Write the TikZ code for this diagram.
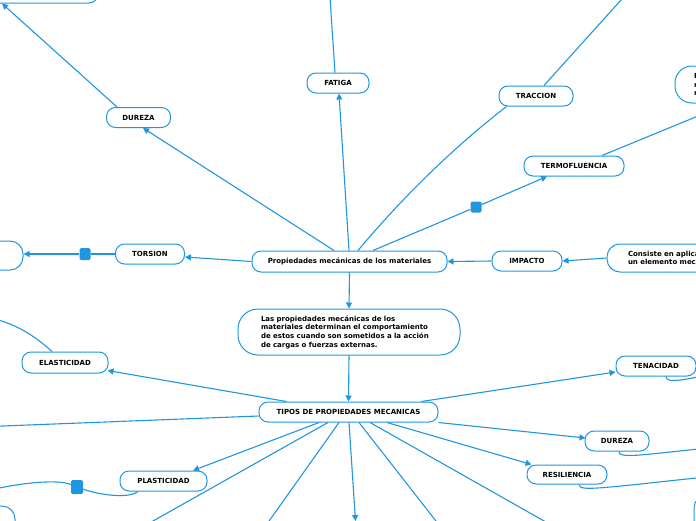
\documentclass[tikz,border=0pt]{standalone}
\usepackage{fontspec}
\setmainfont{DejaVu Sans}
\usetikzlibrary{arrows.meta,calc}
\definecolor{mapblue}{RGB}{33,150,224}
\begin{document}
\begin{tikzpicture}[x=1pt,y=-1pt,
    >={Triangle[length=6pt,width=6pt]},
    link/.style={draw=mapblue, line width=1.1pt},
    topic/.style={draw=mapblue, line width=1pt, fill=white, rounded corners=9pt,
      minimum height=20pt, inner sep=0pt, align=center,
      font=\fontsize{7}{8.7}\selectfont\bfseries},
    knob/.style={fill=mapblue, rounded corners=1.5pt, minimum size=11pt, inner sep=0pt}]
    % Canvas
    \fill[white] (0,0) rectangle (696,520);
    \useasboundingbox (0,0) rectangle (696,520);
    \clip (0,0) rectangle (696,520);
    % Upper topics
    \node[topic, minimum width=195pt, minimum height=21pt] (main) at (349.5,261.5) {Propiedades mecánicas de los materiales};
    \node[topic, minimum width=64pt] (dureza) at (138.5,117.5) {DUREZA};
    \node[topic, minimum width=62pt] (fatiga) at (338,83) {FATIGA};
    \node[topic, minimum width=74pt] (traccion) at (536,96) {TRACCION};
    \node[topic, minimum width=100pt] (termo) at (574,166) {TERMOFLUENCIA};
    \node[topic, minimum width=70pt] (impacto) at (527,261) {IMPACTO};
    \node[topic, minimum width=69pt] (torsion) at (150,254) {TORSION};
    \node[topic, minimum width=158pt, minimum height=28pt] (topleft) at (19,-11) {};
    \node[topic, minimum width=100pt, minimum height=29pt, rounded corners=13pt] (leftend) at (-27,255.5) {};
    \node[topic, text width=100pt, inner xsep=19pt, minimum height=37pt, align=left, rounded corners=17pt] (topright) at (744,84.5) {I\\r\\r};
    \node[topic, text width=150pt, inner xsep=21pt, minimum height=28pt, align=left, rounded corners=13pt] (consiste) at (703,258) {Consiste en aplica\\un elemento mec};
    \node[topic, text width=176pt, inner xsep=23pt, minimum height=46pt, align=left, rounded corners=20pt] (desc) at (349,332) {Las propiedades mecánicas de los\\materiales determinan el comportamiento\\de estos cuando son sometidos a la acción\\de cargas o fuerzas externas.};
    \node[knob] (sqa) at (476,207) {};
    \node[knob, minimum height=12pt] (sqb) at (85,254) {};
    % Lower topics
    \node[topic, minimum width=179pt] (tipos) at (348.5,412) {TIPOS DE PROPIEDADES MECANICAS};
    \node[topic, minimum width=86pt, minimum height=21pt] (elast) at (65,362.5) {ELASTICIDAD};
    \node[topic, minimum width=87pt] (plast) at (163.5,481) {PLASTICIDAD};
    \node[topic, minimum width=80pt] (tenac) at (656,366) {TENACIDAD};
    \node[topic, minimum width=64pt] (durezab) at (617,441) {DUREZA};
    \node[topic, minimum width=80pt, minimum height=19pt] (resil) at (567,474.5) {RESILIENCIA};
    \node[topic, minimum width=100pt, minimum height=58pt, rounded corners=13pt] (botleft) at (-35,535) {};
    \node[topic, minimum width=100pt, minimum height=70pt, rounded corners=13pt] (botright) at (744,530) {};
    \node[knob, minimum width=12pt, minimum height=14pt] (sqc) at (77,487) {};
    % Free ends
    \coordinate (fatigaup) at (329.5,-10);
    \coordinate (traccionup) at (630,-10);
    \coordinate (termoup) at (720,107);
    \coordinate (elastup) at (-10,318);
    \coordinate (farleft) at (-10,426.5);
    \coordinate (plastend) at (-10,490);
    \coordinate (downa) at (137,530);
    \coordinate (downb) at (262.7,530);
    \coordinate (downc) at (355.5,521);
    \coordinate (downd) at (443,530);
    \coordinate (downe) at (560,530);
    \coordinate (tenacend) at (720,372);
    \coordinate (durezaend) at (720,446.7);
    \coordinate (resilend) at (720,475.5);
    % Upper links
    \draw[link, ->] ($(main.north)+(-15.5,0)$) -- ($(dureza.south)+(4.5,0)$);
    \draw[link, ->] ($(dureza.north)+(-21.5,0)$) -- ($(topleft.south)+(-17,0)$);
    \draw[link, ->] ($(main.north)+(-0.5,0)$) -- ($(fatiga.south)+(1,0)$);
    \draw[link] ($(fatiga.north)+(-3,0)$) -- (fatigaup);
    \draw[link] ($(main.north)+(8.5,0)$) .. controls (402,198) and (451.7,149) .. ($(traccion.south west)+(8,0)$);
    \draw[link] ($(traccion.north)+(8,0)$) -- (traccionup);
    \draw[link] ($(main.north)+(23.5,0)$) -- (sqa);
    \draw[link, ->] (sqa) -- ($(termo.south)+(-27,0)$);
    \draw[link] ($(termo.north)+(28,0)$) -- (termoup);
    \draw[link, ->] (impacto.west) -- (main.east);
    \draw[link, ->] (consiste.west) -- (impacto.east);
    \draw[link, ->] (main.west) -- ($(torsion.east)+(0,3)$);
    \draw[link] (torsion.west) -- (sqb);
    \draw[link, ->] (sqb) -- ($(leftend.east)+(0,-1.5)$);
    \draw[link, ->] (main.south) -- (desc.north);
    \draw[link, ->] (desc.south) -- (tipos.north);
    % Lower links
    \draw[link, ->] ($(tipos.north west)+(28,0)$) -- ($(elast.south east)+(-1,-3)$);
    \draw[link] ($(elast.north)+(-13,0)$) .. controls (35,336) and (15,323) .. (elastup);
    \draw[link] ($(tipos.west)+(0,4)$) -- (farleft);
    \draw[link, ->] ($(tipos.south)+(-29.5,0)$) -- ($(plast.north)+(29.5,0)$);
    \draw[link] ($(plast.south)+(-25.5,0)$) .. controls (128,499) and (100,495) .. (sqc);
    \draw[link] (sqc) .. controls (60,480) and (30,481) .. (plastend);
    \draw[link] ($(tipos.south)+(-20.5,0)$) -- (downa);
    \draw[link] ($(tipos.south)+(-9.5,0)$) -- (downb);
    \draw[link, ->] ($(tipos.south)+(0.5,0)$) -- (downc);
    \draw[link] ($(tipos.south)+(10.5,0)$) -- (downd);
    \draw[link] ($(tipos.south)+(21.5,0)$) -- (downe);
    \draw[link, ->] ($(tipos.south)+(38.5,0)$) -- ($(resil.north west)+(5,0)$);
    \draw[link, ->] (tipos.south east) -- ($(durezab.west)+(1,-3)$);
    \draw[link, ->] ($(tipos.north east)+(-17,0)$) -- ($(tenac.west)+(0,6)$);
    \draw[link] ($(tenac.south)+(10,0)$) .. controls (666,384) and (685,380) .. (tenacend);
    \draw[link] ($(durezab.south)+(2,0)$) .. controls (619,459) and (640,455) .. (durezaend);
    \draw[link] ($(resil.south)+(12,0)$) .. controls (579,492) and (600,488) .. (resilend);
\end{tikzpicture}
\end{document}
